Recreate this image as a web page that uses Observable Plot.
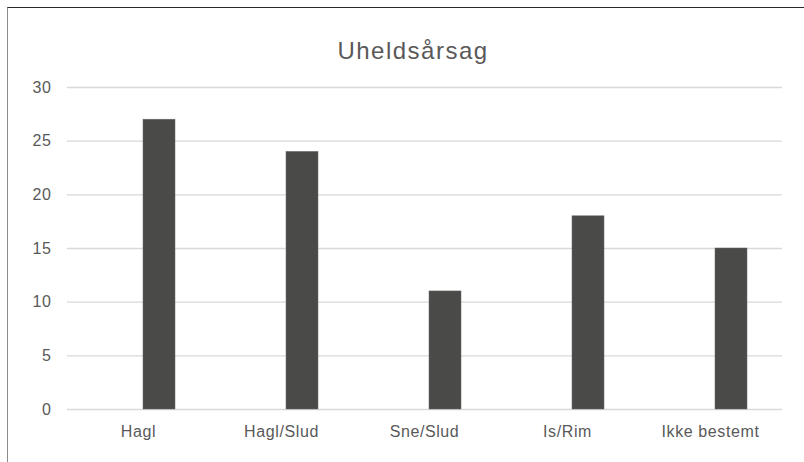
<!DOCTYPE html>
<html>
<head>
<meta charset="utf-8">
<script src="https://cdn.jsdelivr.net/npm/d3@7"></script>
<script src="https://cdn.jsdelivr.net/npm/@observablehq/plot@0.6"></script>
<style>
  html, body { margin: 0; padding: 0; background: #fff; overflow: hidden; }
  body { width: 804px; height: 462px; position: relative; font-family: "Liberation Sans", Arial, sans-serif; }
  #frame { position: absolute; left: 7px; top: 7px; width: 806px; height: 470px;
           border-left: 1px solid #8c8c8c; border-top: 1px solid #2a2a2a; box-sizing: border-box; }
  #title { position: absolute; left: 10px; width: 806px; top: 37px; text-align: center;
           font-size: 24px; letter-spacing: 1.5px; color: #595959; line-height: 28px; }
  #chart { position: absolute; left: 0; top: 70px; }
  #chart svg text { letter-spacing: 0.6px; }
</style>
</head>
<body>
<div id="frame"></div>
<div id="title">Uheldsårsag</div>
<div id="chart"></div>
<script>
const categories = ["Hagl", "Hagl/Slud", "Sne/Slud", "Is/Rim", "Ikke bestemt"];
const values = [27, 24, 11, 18, 15];
const yTicks = [0, 5, 10, 15, 20, 25, 30];

const data = categories.map((c, i) => ({cat: c, val: values[i]}));

const chart = Plot.plot({
  width: 804,
  height: 392,
  marginTop: 17,
  marginBottom: 53,
  marginLeft: 67,
  marginRight: 22,
  style: {fontFamily: "'Liberation Sans', Arial, sans-serif", fontSize: "16px", color: "#595959", background: "transparent"},
  x: {domain: categories, paddingInner: 0.776, paddingOuter: 0.388, label: null},
  y: {domain: [0, 30], label: null},
  marks: [
    Plot.ruleY(yTicks, {stroke: "#d9d9d9", strokeWidth: 1.4}),
    Plot.barY(data, {x: "cat", y: "val", fill: "#4a4a48", stroke: "#6a6a68", strokeWidth: 0.5, dx: 21}),
    Plot.axisX({tickSize: 0, tickPadding: 16, fontSize: 16, fill: "#595959"}),
    Plot.axisY({ticks: yTicks, tickSize: 0, tickPadding: 16, fontSize: 16, fill: "#595959"})
  ]
});
document.getElementById("chart").appendChild(chart);
</script>
</body>
</html>
